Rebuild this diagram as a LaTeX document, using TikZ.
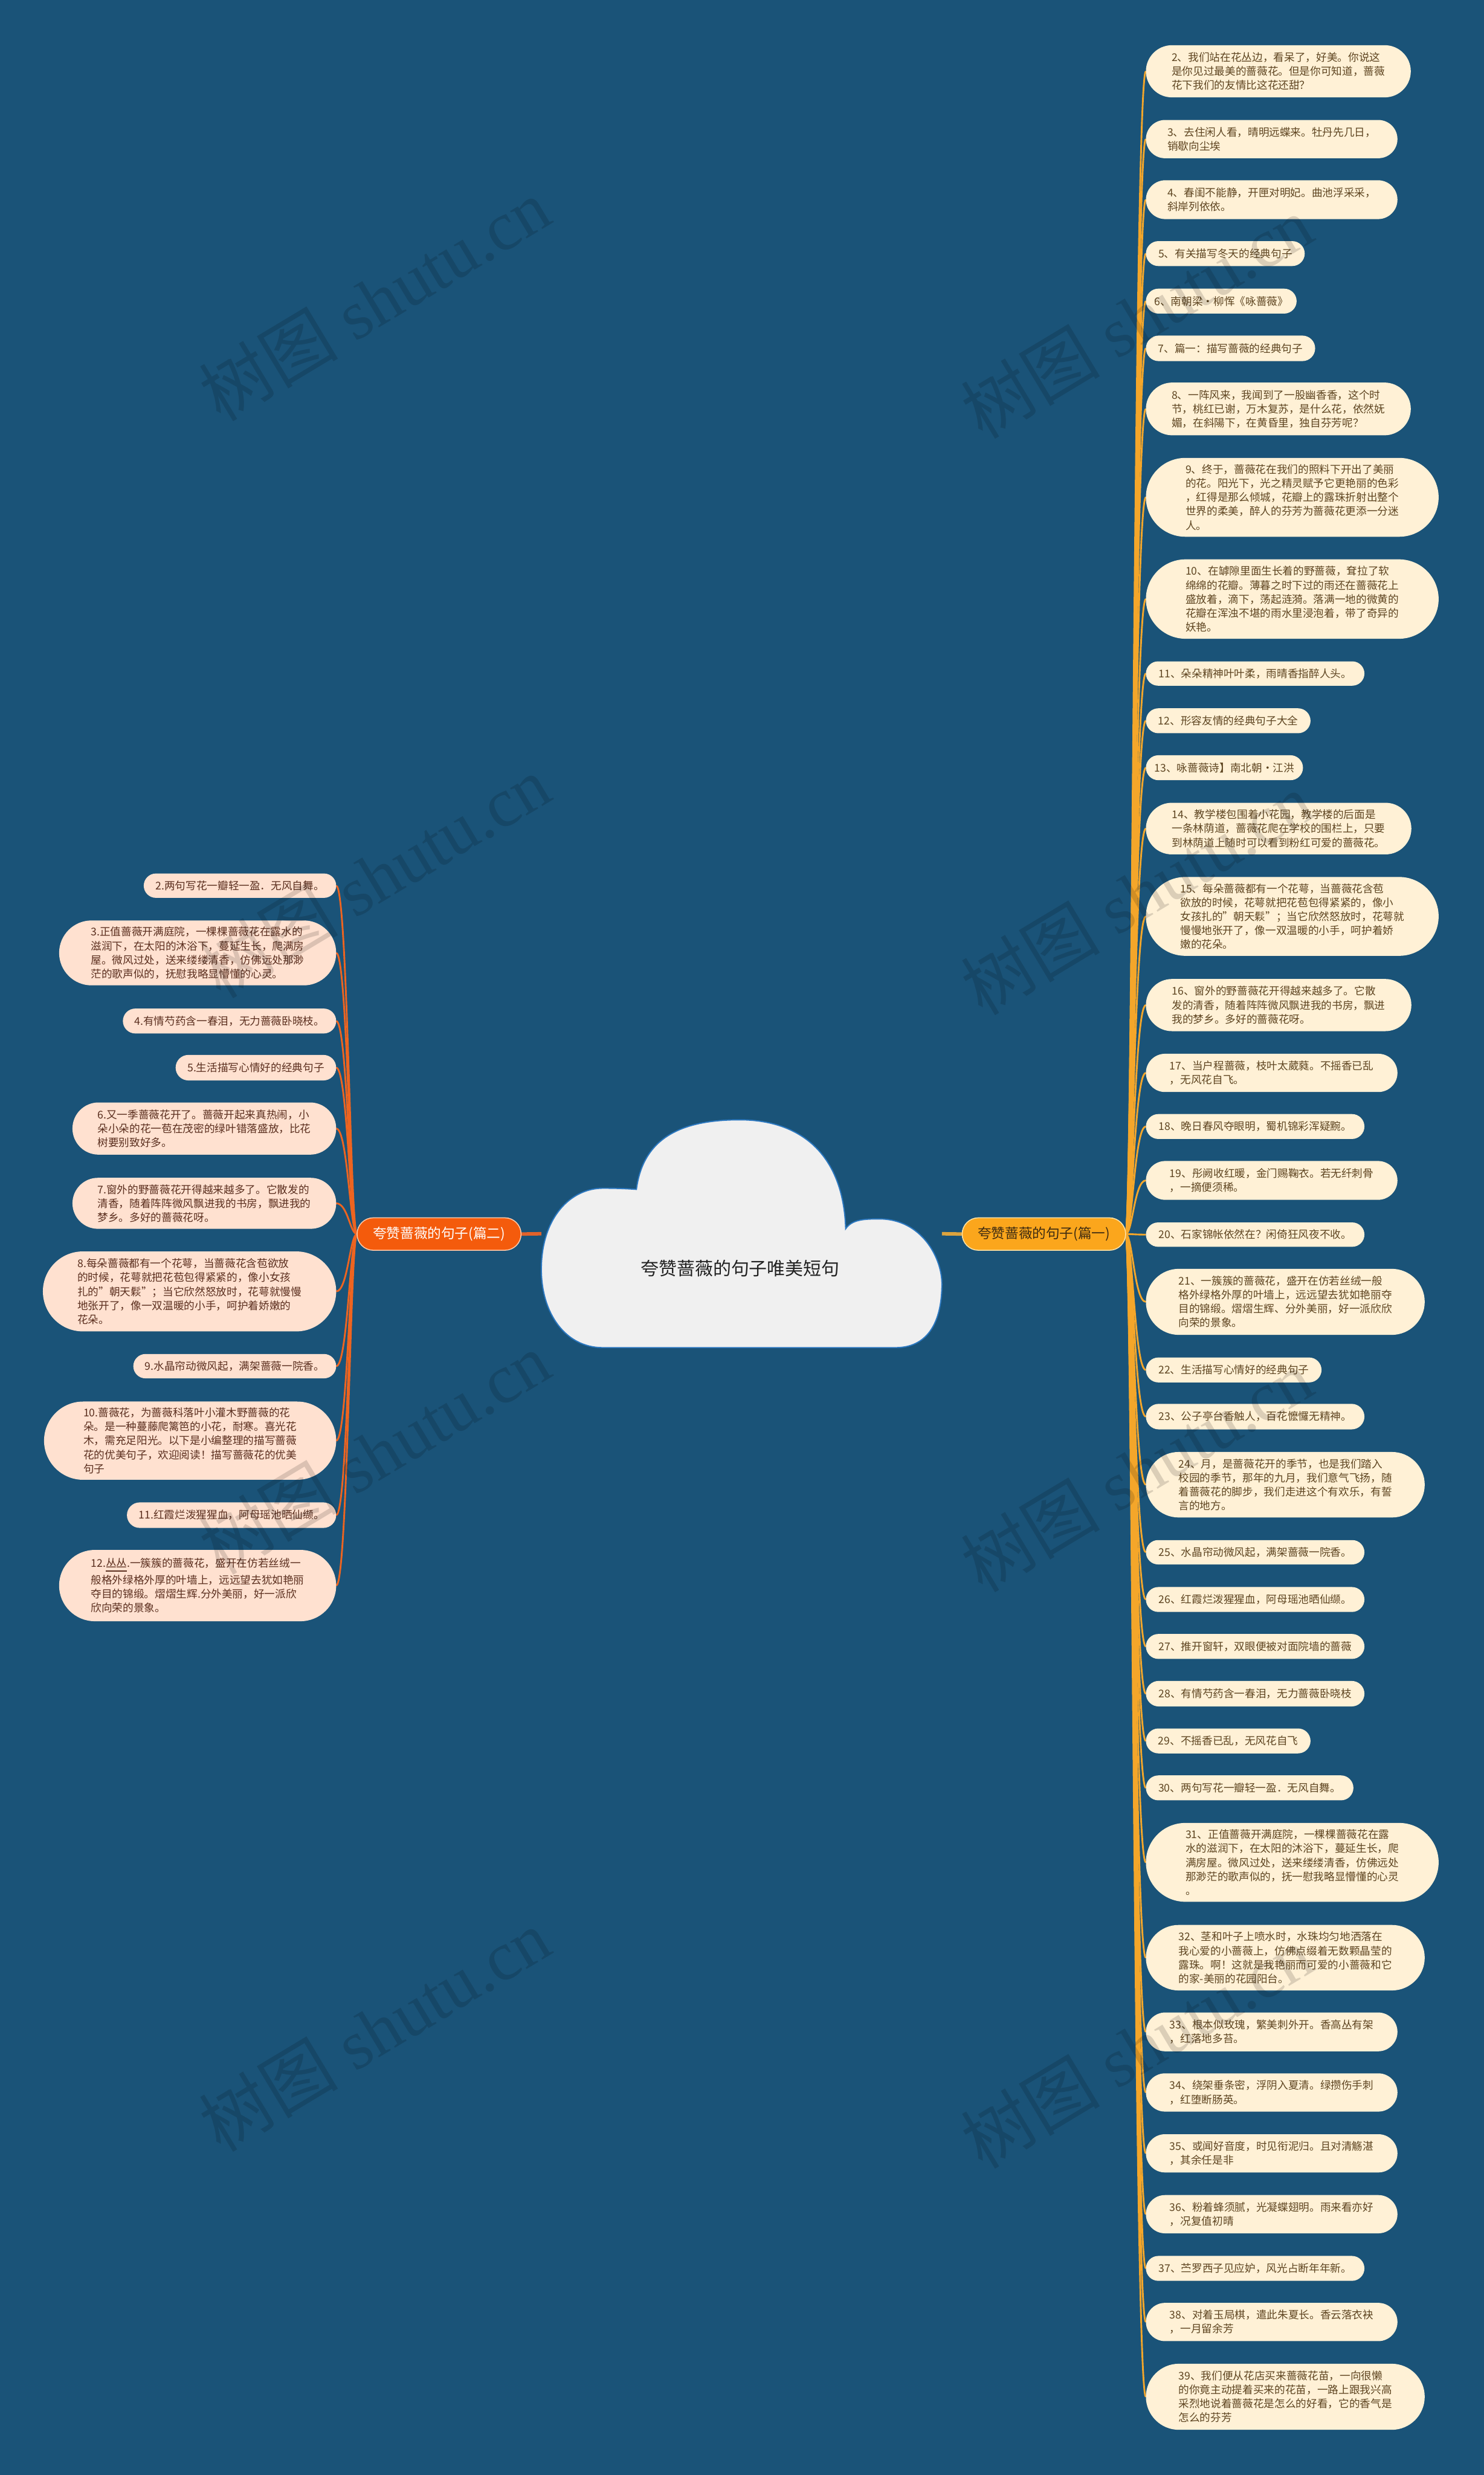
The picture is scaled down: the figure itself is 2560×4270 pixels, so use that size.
\documentclass[tikz,border=0pt]{standalone}
\usepackage{fontspec}
\setmainfont{Noto Sans CJK SC}
\newfontfamily\wmlat{Liberation Serif}
\definecolor{bgc}{HTML}{1A5378}
\definecolor{rleafc}{HTML}{FFF1D6}
\definecolor{lleafc}{HTML}{FFE1D0}
\definecolor{rtext}{HTML}{5E4521}
\definecolor{ltext}{HTML}{5B2F1F}
\definecolor{rline}{HTML}{F4A62A}
\definecolor{lline}{HTML}{EE6420}
\definecolor{rtrunkc}{HTML}{DDA43E}
\definecolor{ltrunkc}{HTML}{E2622A}
\definecolor{bonefill}{HTML}{FBA61C}
\definecolor{boneline}{HTML}{FFE3A6}
\definecolor{bonetext}{HTML}{3D2B12}
\definecolor{btwofill}{HTML}{F45B0C}
\definecolor{btwoline}{HTML}{FFC9A8}
\definecolor{cloudfill}{HTML}{F0F0F0}
\definecolor{cloudline}{HTML}{2C78C0}
\definecolor{titletext}{HTML}{222222}
\newcommand\leaffont{\fontsize{4.6}{6.03}\selectfont}
\newcommand\leafnode[7]{%
 \pgfmathsetmacro\lfw{(#5-#3)*0.25}%
 \pgfmathsetmacro\lfh{(#6-#4)*0.25}%
 \pgfmathsetmacro\lfr{(#6-#4)*0.125}%
 \pgfmathsetmacro\lfx{(#3+#5)/2}%
 \pgfmathsetmacro\lfy{(#4+#6)/2}%
 \node[#1,minimum width=\lfw pt,minimum height=\lfh pt,rounded corners=\lfr pt] (#2) at (\lfx,\lfy) {#7};%
}
\newcommand\rleaf[5]{\leafnode{rleaf}{#1}{1977}{#2}{#4}{#3}{#5}}
\newcommand\lleaf[5]{\leafnode{lleaf}{#1}{#2}{#3}{580}{#4}{#5}}
\pgfdeclarelayer{bglayer}
\pgfdeclarelayer{lineslayer}
\pgfdeclarelayer{wmlayer}
\pgfsetlayers{bglayer,lineslayer,main,wmlayer}
\begin{document}
\begin{tikzpicture}[x=0.25pt,y=-0.25pt,
  rleaf/.style={fill=rleafc,text=rtext,inner sep=0pt,outer sep=0pt,align=left,font=\leaffont},
  lleaf/.style={fill=lleafc,text=ltext,inner sep=0pt,outer sep=0pt,align=left,font=\leaffont},
  rcon/.style={draw=rline,line width=0.75pt},
  lcon/.style={draw=lline,line width=0.75pt},
  rtrunk/.style={draw=rtrunkc,line width=1.5pt},
  ltrunk/.style={draw=ltrunkc,line width=1.5pt},
  bone/.style={fill=bonefill,draw=boneline,line width=0.4pt,text=bonetext,inner sep=0pt,outer sep=0pt,font=\fontsize{5.9}{7}\selectfont},
  btwo/.style={fill=btwofill,draw=btwoline,line width=0.4pt,text=white,inner sep=0pt,outer sep=0pt,font=\fontsize{5.9}{7}\selectfont},
  wm/.style={text=black,text opacity=0.14,inner sep=0pt,font=\fontsize{30}{36}\selectfont,rotate=31}]
\begin{pgfonlayer}{bglayer}
\fill[bgc] (0,0) rectangle (2560,4270);
\end{pgfonlayer}

% central cloud
\path[fill=cloudfill,draw=cloudline,line width=0.5pt]
 (1098,2052) .. controls (1110,1960) and (1180,1932) .. (1276,1932)
 .. controls (1380,1932) and (1455,1990) .. (1459,2120)
 .. controls (1470,2104) and (1490,2103) .. (1517,2103)
 .. controls (1590,2103) and (1625,2170) .. (1625,2215)
 .. controls (1625,2285) and (1598,2325) .. (1545,2325)
 -- (1040,2325)
 .. controls (975,2325) and (934,2265) .. (934,2190)
 .. controls (934,2100) and (985,2050) .. (1040,2050)
 .. controls (1065,2050) and (1085,2051) .. (1098,2052) -- cycle;
\node[minimum width=172.75pt,minimum height=98.25pt,inner sep=0pt,outer sep=0pt] (root) at (1279.5,2128.5) {};
\node[text=titletext,font=\fontsize{7.8}{9}\selectfont] (title) at (1277,2188) {夸赞蔷薇的句子唯美短句};

% branch nodes
\node[bone,minimum width=70.5pt,minimum height=14pt,rounded corners=7pt] (b1) at (1801,2129) {夸赞蔷薇的句子(篇一)};
\node[btwo,minimum width=70.75pt,minimum height=14pt,rounded corners=7pt] (b2) at (757.5,2129) {夸赞蔷薇的句子(篇二)};

% right leaves
\rleaf{r2}{78}{168}{2434}{2、我们站在花丛边，看呆了，好美。你说这\\是你见过最美的蔷薇花。但是你可知道，蔷薇\\花下我们的友情比这花还甜？}
\rleaf{r3}{207}{273}{2411}{3、去住闲人看，晴明远蝶来。牡丹先几日，\\销歇向尘埃}
\rleaf{r4}{311}{378}{2411}{4、春闺不能静，开匣对明妃。曲池浮采采，\\斜岸列依依。}
\rleaf{r5}{416}{459}{2251}{5、有关描写冬天的经典句子}
\rleaf{r6}{498}{541}{2237}{6、南朝梁·柳恽《咏蔷薇》}
\rleaf{r7}{579}{623}{2269}{7、篇一：描写蔷薇的经典句子}
\rleaf{r8}{660}{751}{2434}{8、一阵风来，我闻到了一股幽香香，这个时\\节，桃红已谢，万木复苏，是什么花，依然妩\\媚，在斜陽下，在黄昏里，独自芬芳呢？}
\rleaf{r9}{790}{926}{2482}{9、终于，蔷薇花在我们的照料下开出了美丽\\的花。阳光下，光之精灵赋予它更艳丽的色彩\\，红得是那么倾城，花瓣上的露珠折射出整个\\世界的柔美，醉人的芬芳为蔷薇花更添一分迷\\人。}
\rleaf{r10}{965}{1102}{2482}{10、在罅隙里面生长着的野蔷薇，耷拉了软\\绵绵的花瓣。薄暮之时下过的雨还在蔷薇花上\\盛放着，滴下，荡起涟漪。落满一地的微黄的\\花瓣在浑浊不堪的雨水里浸泡着，带了奇异的\\妖艳。}
\rleaf{r11}{1141}{1183}{2354}{11、朵朵精神叶叶柔，雨晴香指醉人头。}
\rleaf{r12}{1222}{1265}{2261}{12、形容友情的经典句子大全}
\rleaf{r13}{1303}{1346}{2248}{13、咏蔷薇诗】南北朝·江洪}
\rleaf{r14}{1385}{1474}{2435}{14、教学楼包围着小花园，教学楼的后面是\\一条林荫道，蔷薇花爬在学校的围栏上，只要\\到林荫道上随时可以看到粉红可爱的蔷薇花。}
\rleaf{r15}{1513}{1649}{2482}{15、每朵蔷薇都有一个花萼，当蔷薇花含苞\\欲放的时候，花萼就把花苞包得紧紧的，像小\\女孩扎的"朝天鬏"；当它欣然怒放时，花萼就\\慢慢地张开了，像一双温暖的小手，呵护着娇\\嫩的花朵。}
\rleaf{r16}{1689}{1779}{2435}{16、窗外的野蔷薇花开得越来越多了。它散\\发的清香，随着阵阵微风飘进我的书房，飘进\\我的梦乡。多好的蔷薇花呀。}
\rleaf{r17}{1818}{1884}{2411}{17、当户程蔷薇，枝叶太葳蕤。不摇香已乱\\，无风花自飞。}
\rleaf{r18}{1922}{1965}{2354}{18、晚日春风夺眼明，蜀机锦彩浑疑黦。}
\rleaf{r19}{2003}{2070}{2411}{19、彤阙收红暖，金门赐鞠衣。若无纤刺骨\\，一摘便须稀。}
\rleaf{r20}{2109}{2151}{2354}{20、石家锦帐依然在？闲倚狂风夜不收。}
\rleaf{r21}{2189}{2303}{2458}{21、一簇簇的蔷薇花，盛开在仿若丝绒一般\\格外绿格外厚的叶墙上，远远望去犹如艳丽夺\\目的锦缎。熠熠生辉、分外美丽，好一派欣欣\\向荣的景象。}
\rleaf{r22}{2342}{2385}{2280}{22、生活描写心情好的经典句子}
\rleaf{r23}{2422}{2466}{2354}{23、公子亭台香触人，百花懡㦬无精神。}
\rleaf{r24}{2505}{2618}{2458}{24、月，是蔷薇花开的季节，也是我们踏入\\校园的季节，那年的九月，我们意气飞扬，随\\着蔷薇花的脚步，我们走进这个有欢乐，有誓\\言的地方。}
\rleaf{r25}{2657}{2699}{2354}{25、水晶帘动微风起，满架蔷薇一院香。}
\rleaf{r26}{2738}{2781}{2354}{26、红霞烂泼猩猩血，阿母瑶池晒仙缬。}
\rleaf{r27}{2819}{2862}{2354}{27、推开窗轩，双眼便被对面院墙的蔷薇}
\rleaf{r28}{2900}{2944}{2354}{28、有情芍药含一春泪，无力蔷薇卧晓枝}
\rleaf{r29}{2982}{3025}{2261}{29、不摇香已乱，无风花自飞}
\rleaf{r30}{3063}{3106}{2335}{30、两句写花一瓣轻一盈．无风自舞。}
\rleaf{r31}{3145}{3281}{2482}{31、正值蔷薇开满庭院，一棵棵蔷薇花在露\\水的滋润下，在太阳的沐浴下，蔓延生长，爬\\满房屋。微风过处，送来缕缕清香，仿佛远处\\那渺茫的歌声似的，抚一慰我略显懵懂的心灵\\。}
\rleaf{r32}{3321}{3434}{2458}{32、茎和叶子上喷水时，水珠均匀地洒落在\\我心爱的小蔷薇上，仿佛点缀着无数颗晶莹的\\露珠。啊！这就是我艳丽而可爱的小蔷薇和它\\的家-美丽的花园阳台。}
\rleaf{r33}{3472}{3539}{2411}{33、根本似玫瑰，繁美刺外开。香高丛有架\\，红落地多苔。}
\rleaf{r34}{3577}{3643}{2411}{34、绕架垂条密，浮阴入夏清。绿攒伤手刺\\，红堕断肠英。}
\rleaf{r35}{3682}{3748}{2411}{35、或闻好音度，时见衔泥归。且对清觞湛\\，其余任是非}
\rleaf{r36}{3787}{3853}{2411}{36、粉着蜂须腻，光凝蝶翅明。雨来看亦好\\，况复值初晴}
\rleaf{r37}{3892}{3935}{2354}{37、苎罗西子见应妒，风光占断年年新。}
\rleaf{r38}{3973}{4039}{2411}{38、对着玉局棋，遣此朱夏长。香云落衣袂\\，一月留余芳}
\rleaf{r39}{4078}{4192}{2458}{39、我们便从花店买来蔷薇花苗，一向很懒\\的你竟主动提着买来的花苗，一路上跟我兴高\\采烈地说着蔷薇花是怎么的好看，它的香气是\\怎么的芬芳}

% left leaves
\lleaf{l2}{248}{1507}{1549}{2.两句写花一瓣轻一盈．无风自舞。}
\lleaf{l3}{102}{1588}{1700}{3.正值蔷薇开满庭院，一棵棵蔷薇花在露水的\\滋润下，在太阳的沐浴下，蔓延生长，爬满房\\屋。微风过处，送来缕缕清香，仿佛远处那渺\\茫的歌声似的，抚慰我略显懵懂的心灵。}
\lleaf{l4}{212}{1740}{1783}{4.有情芍药含一春泪，无力蔷薇卧晓枝。}
\lleaf{l5}{303}{1820}{1864}{5.生活描写心情好的经典句子}
\lleaf{l6}{125}{1902}{1992}{6.又一季蔷薇花开了。蔷薇开起来真热闹，小\\朵小朵的花一苞在茂密的绿叶错落盛放，比花\\树要别致好多。}
\lleaf{l7}{125}{2032}{2120}{7.窗外的野蔷薇花开得越来越多了。它散发的\\清香，随着阵阵微风飘进我的书房，飘进我的\\梦乡。多好的蔷薇花呀。}
\lleaf{l8}{74}{2159}{2297}{8.每朵蔷薇都有一个花萼，当蔷薇花含苞欲放\\的时候，花萼就把花苞包得紧紧的，像小女孩\\扎的"朝天鬏"；当它欣然怒放时，花萼就慢慢\\地张开了，像一双温暖的小手，呵护着娇嫩的\\花朵。}
\lleaf{l9}{230}{2336}{2378}{9.水晶帘动微风起，满架蔷薇一院香。}
\lleaf{l10}{76}{2418}{2553}{10.蔷薇花，为蔷薇科落叶小灌木野蔷薇的花\\朵。是一种蔓藤爬篱笆的小花，耐寒。喜光花\\木，需充足阳光。以下是小编整理的描写蔷薇\\花的优美句子，欢迎阅读！描写蔷薇花的优美\\句子}
\lleaf{l11}{219}{2592}{2636}{11.红霞烂泼猩猩血，阿母瑶池晒仙缬。}
\lleaf{l12}{102}{2674}{2797}{12.\underline{丛丛}.一簇簇的蔷薇花，盛开在仿若丝绒一\\般格外绿格外厚的叶墙上，远远望去犹如艳丽\\夺目的锦缎。熠熠生辉.分外美丽，好一派欣\\欣向荣的景象。}

% connectors
\begin{pgfonlayer}{lineslayer}
\draw[rtrunk] (root.east) -- (b1.west);
\draw[ltrunk] (root.west) -- (b2.east);
\foreach \i in {2,...,39}
  \draw[rcon] (b1.east) .. controls +(12,0) and +(-20,0) .. (r\i.west);
\foreach \i in {2,...,12}
  \draw[lcon] (b2.west) .. controls +(-12,0) and +(20,0) .. (l\i.east);
\end{pgfonlayer}

% watermarks
\begin{pgfonlayer}{wmlayer}
\foreach \wy in {517,1512,2507,3502}
  \node[wm] at (646,\wy) {树图\hspace{0.25em}{\wmlat shutu.cn}};
\foreach \wy in {547,1542,2537,3532}
  \node[wm] at (1961,\wy) {树图\hspace{0.25em}{\wmlat shutu.cn}};
\end{pgfonlayer}
\end{tikzpicture}
\end{document}
